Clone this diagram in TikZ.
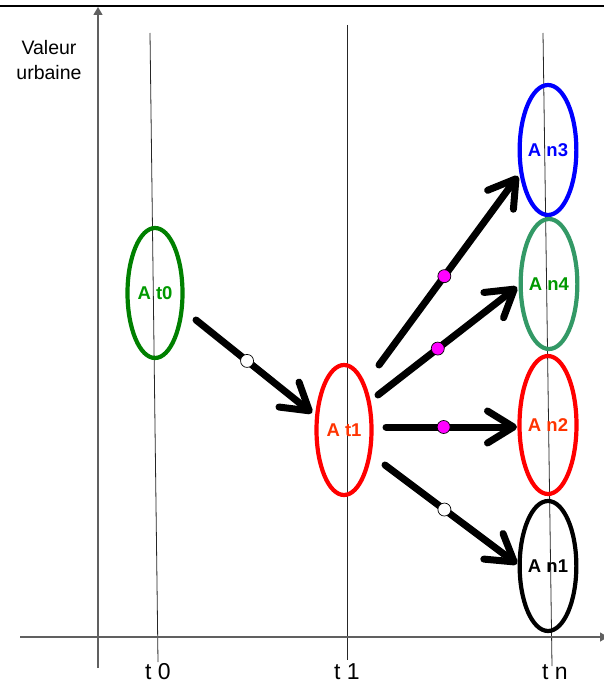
\documentclass[tikz,border=0pt]{standalone}
\usepackage{fontspec}
\setmainfont{Liberation Sans}
\usetikzlibrary{shapes.geometric,arrows.meta}
\definecolor{dkgreen}{HTML}{008000}
\definecolor{txtgreen}{HTML}{009900}
\definecolor{seagreen}{HTML}{339966}
\definecolor{orred}{HTML}{FF3300}
\definecolor{axisgray}{HTML}{606060}
\definecolor{pmagenta}{HTML}{FF00FF}
\begin{document}
\begin{tikzpicture}[x=1pt,y=-1pt,
  ell/.style={ellipse,draw,line width=4.2pt,minimum width=55pt,minimum height=130pt,inner sep=0pt,
    font=\bfseries\fontsize{18.5}{20}\selectfont},
  guide/.style={line width=0.8pt,black!85},
  axis/.style={line width=1.3pt,axisgray,-{Triangle[length=8pt,width=9pt]}},
  bigarrow/.style={line width=7pt,line cap=round,line join=round,black,
    -{Straight Barb[length=26pt,width=32pt,line cap=round,line join=round]}},
  wdot/.style={circle,draw=black,fill=white,line width=0.7pt,minimum size=13pt,inner sep=0pt},
  mdot/.style={circle,draw=black,fill=pmagenta,line width=0.7pt,minimum size=13pt,inner sep=0pt},
  tlabel/.style={font=\fontsize{23}{24}\selectfont,anchor=base}
]
\useasboundingbox (0,0) rectangle (604,687);
% top border line
\coordinate (tl) at (0,6);
\coordinate (tr) at (604,6);
\draw[line width=2.5pt] (tl) -- (tr);
% guide lines
\coordinate (g0a) at (150,33); \coordinate (g0b) at (158,662);
\coordinate (g1a) at (347,25); \coordinate (g1b) at (347,660);
\coordinate (gna) at (543,33); \coordinate (gnb) at (552,666);
\draw[guide] (g0a) -- (g0b);
\draw[guide] (g1a) -- (g1b);
\draw[guide] (gna) -- (gnb);
% axes
\coordinate (ya) at (98,668); \coordinate (yb) at (98,7);
\coordinate (xa) at (20,637); \coordinate (xb) at (608,637);
\draw[axis] (ya) -- (yb);
\draw[axis] (xa) -- (xb);
% axis labels
\node[align=center,font=\fontsize{19.5}{25}\selectfont,anchor=north] (val) at (49,37) {Valeur\\urbaine};
\node[tlabel] (lt0) at (158,679) {t 0};
\node[tlabel] (lt1) at (347,679) {t 1};
\node[tlabel] (ltn) at (555,679) {t n};
% ellipses
\node[ell,draw=dkgreen,text=txtgreen] (At0) at (155,293) {A t0};
\node[ell,draw=red,text=orred] (At1) at (344,430) {A t1};
\node[ell,draw=blue,text=blue] (An3) at (548,150) {A n3};
\node[ell,draw=seagreen,text=txtgreen] (An4) at (549,284) {A n4};
\node[ell,draw=red,text=orred,minimum width=57pt,minimum height=138pt] (An2) at (548,425) {A n2};
\node[ell,draw=black,text=black] (An1) at (548,566) {A n1};
% arrow end points
\coordinate (s1) at (196,320); \coordinate (e1) at (312,413);
\coordinate (s2) at (379,365); \coordinate (e2) at (518,176);
\coordinate (s3) at (378,395); \coordinate (e3) at (517,287);
\coordinate (s4) at (386,427); \coordinate (e4) at (517,427);
\coordinate (s5) at (385,465); \coordinate (e5) at (517,564);
\draw[bigarrow] (s1) -- node[wdot,pos=0.44] (d1) {} (e1);
\draw[bigarrow] (s2) -- node[mdot,pos=0.47] (d2) {} (e2);
\draw[bigarrow] (s3) -- node[mdot,pos=0.43] (d3) {} (e3);
\draw[bigarrow] (s4) -- node[mdot,pos=0.44] (d4) {} (e4);
\draw[bigarrow] (s5) -- node[wdot,pos=0.45] (d5) {} (e5);
\end{tikzpicture}
\end{document}
